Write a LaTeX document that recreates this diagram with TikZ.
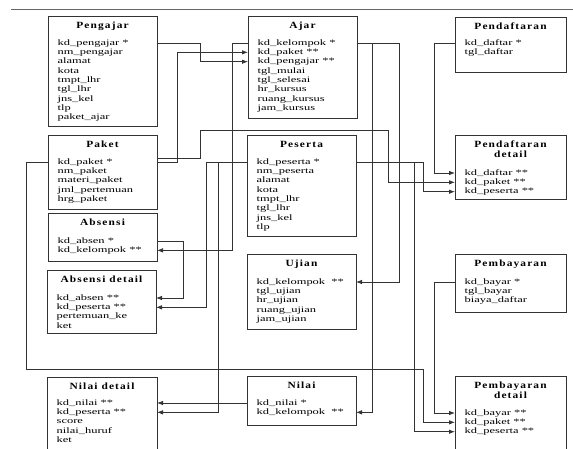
\documentclass[tikz,border=0pt]{standalone}
\usepackage{fontspec}
\setmainfont{Liberation Serif}[FakeStretch=1.5]
\newfontfamily\titlefont{Liberation Serif}[FakeStretch=1.2,LetterSpace=12]
\usetikzlibrary{positioning,arrows.meta}
\newcommand{\entity}[7]{%
  \node[entbox,minimum width=#3,minimum height=#4] (#1) at #2 {};
  \node[enttitle,below=6pt of #1.north] (#1-t) {#5};
  \foreach \f [count=\i] in {#7}
    \node[field] (#1-\i) at ([xshift=9.5pt,yshift={-#6pt-9.35pt*(\i-1)}]#1.north west) {\f};
}

\begin{document}
\begin{tikzpicture}[x=1pt,y=-1pt,
  link/.style={draw=black!80,line width=0.8pt,-{Latex[length=6pt,width=4.5pt]}}]
\tikzstyle{entbox}=[draw=black!80,line width=1pt,fill=white,anchor=north west,inner sep=0pt,outer sep=0pt]
\tikzstyle{enttitle}=[anchor=north,inner sep=0pt,align=center,font=\titlefont\bfseries\fontsize{9.5}{10}\selectfont]
\tikzstyle{field}=[anchor=base west,inner sep=0pt,text height=5.5pt,text depth=1.5pt,font=\fontsize{8.3}{9.35}\selectfont]
\clip (0,0) rectangle (573,448);
\draw[black!60,line width=0.6pt] (11,9) -- (573,9);

\entity{pengajar}{(48,16)}{109pt}{110pt}{Pengajar}{29}{kd\_pengajar *, nm\_pengajar, alamat, kota, tmpt\_lhr, tgl\_lhr, jns\_kel, tlp, paket\_ajar}
\entity{ajar}{(248,16)}{109pt}{102pt}{Ajar}{29}{kd\_kelompok *, kd\_paket **, kd\_pengajar **, tgl\_mulai, tgl\_selesai, hr\_kursus, ruang\_kursus, jam\_kursus}
\entity{pendaftaran}{(455,17)}{111pt}{55pt}{Pendaftaran}{28}{kd\_daftar *, tgl\_daftar}
\entity{pdetail}{(455,135)}{111pt}{64pt}{Pendaftaran\\detail}{40}{kd\_daftar **, kd\_paket **, kd\_peserta **}
\entity{paket}{(48,135)}{109pt}{74pt}{Paket}{29}{kd\_paket *, nm\_paket, materi\_paket, jml\_pertemuan, hrg\_paket}
\entity{absensi}{(48,213)}{109pt}{48pt}{Absensi}{30}{kd\_absen *, kd\_kelompok **}
\entity{adetail}{(47,270)}{109pt}{63pt}{Absensi detail}{30}{kd\_absen **, kd\_peserta **, pertemuan\_ke, ket}
\entity{peserta}{(247,135)}{109pt}{101pt}{Peserta}{29}{kd\_peserta *, nm\_peserta, alamat, kota, tmpt\_lhr, tgl\_lhr, jns\_kel, tlp}
\entity{ujian}{(247,254)}{109pt}{75pt}{Ujian}{30}{kd\_kelompok~~**, tgl\_ujian, hr\_ujian, ruang\_ujian, jam\_ujian}
\entity{pembayaran}{(455,254)}{111pt}{58pt}{Pembayaran}{30}{kd\_bayar *, tgl\_bayar, biaya\_daftar}
\entity{pbdetail}{(455,376)}{111pt}{73pt}{Pembayaran\\detail}{39}{kd\_bayar **, kd\_paket **, kd\_peserta **}
\entity{nilai}{(247,376)}{109pt}{49pt}{Nilai}{29}{kd\_nilai *, kd\_kelompok~~**}
\entity{ndetail}{(47,377)}{110pt}{75pt}{Nilai detail}{28}{kd\_nilai **, kd\_peserta **, score, nilai\_huruf, ket}

\draw[link] (pengajar.east |- pengajar-1) -- ++(43,0) |- (ajar.west |- ajar-3);
\draw[link] (paket.east |- paket-1) -- ++(20,0) |- (ajar.west |- ajar-2);
\draw[link] ([yshift=4pt]paket.east |- paket-1) -| (200,130) -- (388,130) |- (pdetail.west |- pdetail-2);
\draw[link] (paket.west |- paket-1) -| (26,369) -- (423,369) |- (pbdetail.west |- pbdetail-2);
\draw[link] (ajar.east |- ajar-1) -- ++(42,0) |- (ujian.east |- ujian-1);
\draw[link] (ajar.east |- ajar-1) -- ++(15,0) |- (nilai.east |- nilai-2);
\draw[link] (ajar.west |- ajar-1) -- ++(-16,0) |- (absensi.east |- absensi-2);
\draw[link] (absensi.east |- absensi-1) -- ++(26,0) |- (adetail.east |- adetail-1);
\draw[link] (peserta.west |- peserta-1) -- ++(-41,0) |- (adetail.east |- adetail-2);
\draw[link] (peserta.west |- peserta-1) -- ++(-29,0) |- (ndetail.east |- ndetail-2);
\draw[link] (nilai.west |- nilai-1) -- (ndetail.east |- nilai-1);
\draw[link] (peserta.east |- peserta-1) -- ++(67,0) |- (pdetail.west |- pdetail-3);
\draw[link] (peserta.east |- peserta-1) -- ++(58,0) |- (pbdetail.west |- pbdetail-3);
\draw[link] (pendaftaran.west |- pendaftaran-1) -- ++(-21,0) |- (pdetail.west |- pdetail-1);
\draw[link] (pembayaran.west |- pembayaran-1) -- ++(-21,0) |- (pbdetail.west |- pbdetail-1);
\end{tikzpicture}
\end{document}
